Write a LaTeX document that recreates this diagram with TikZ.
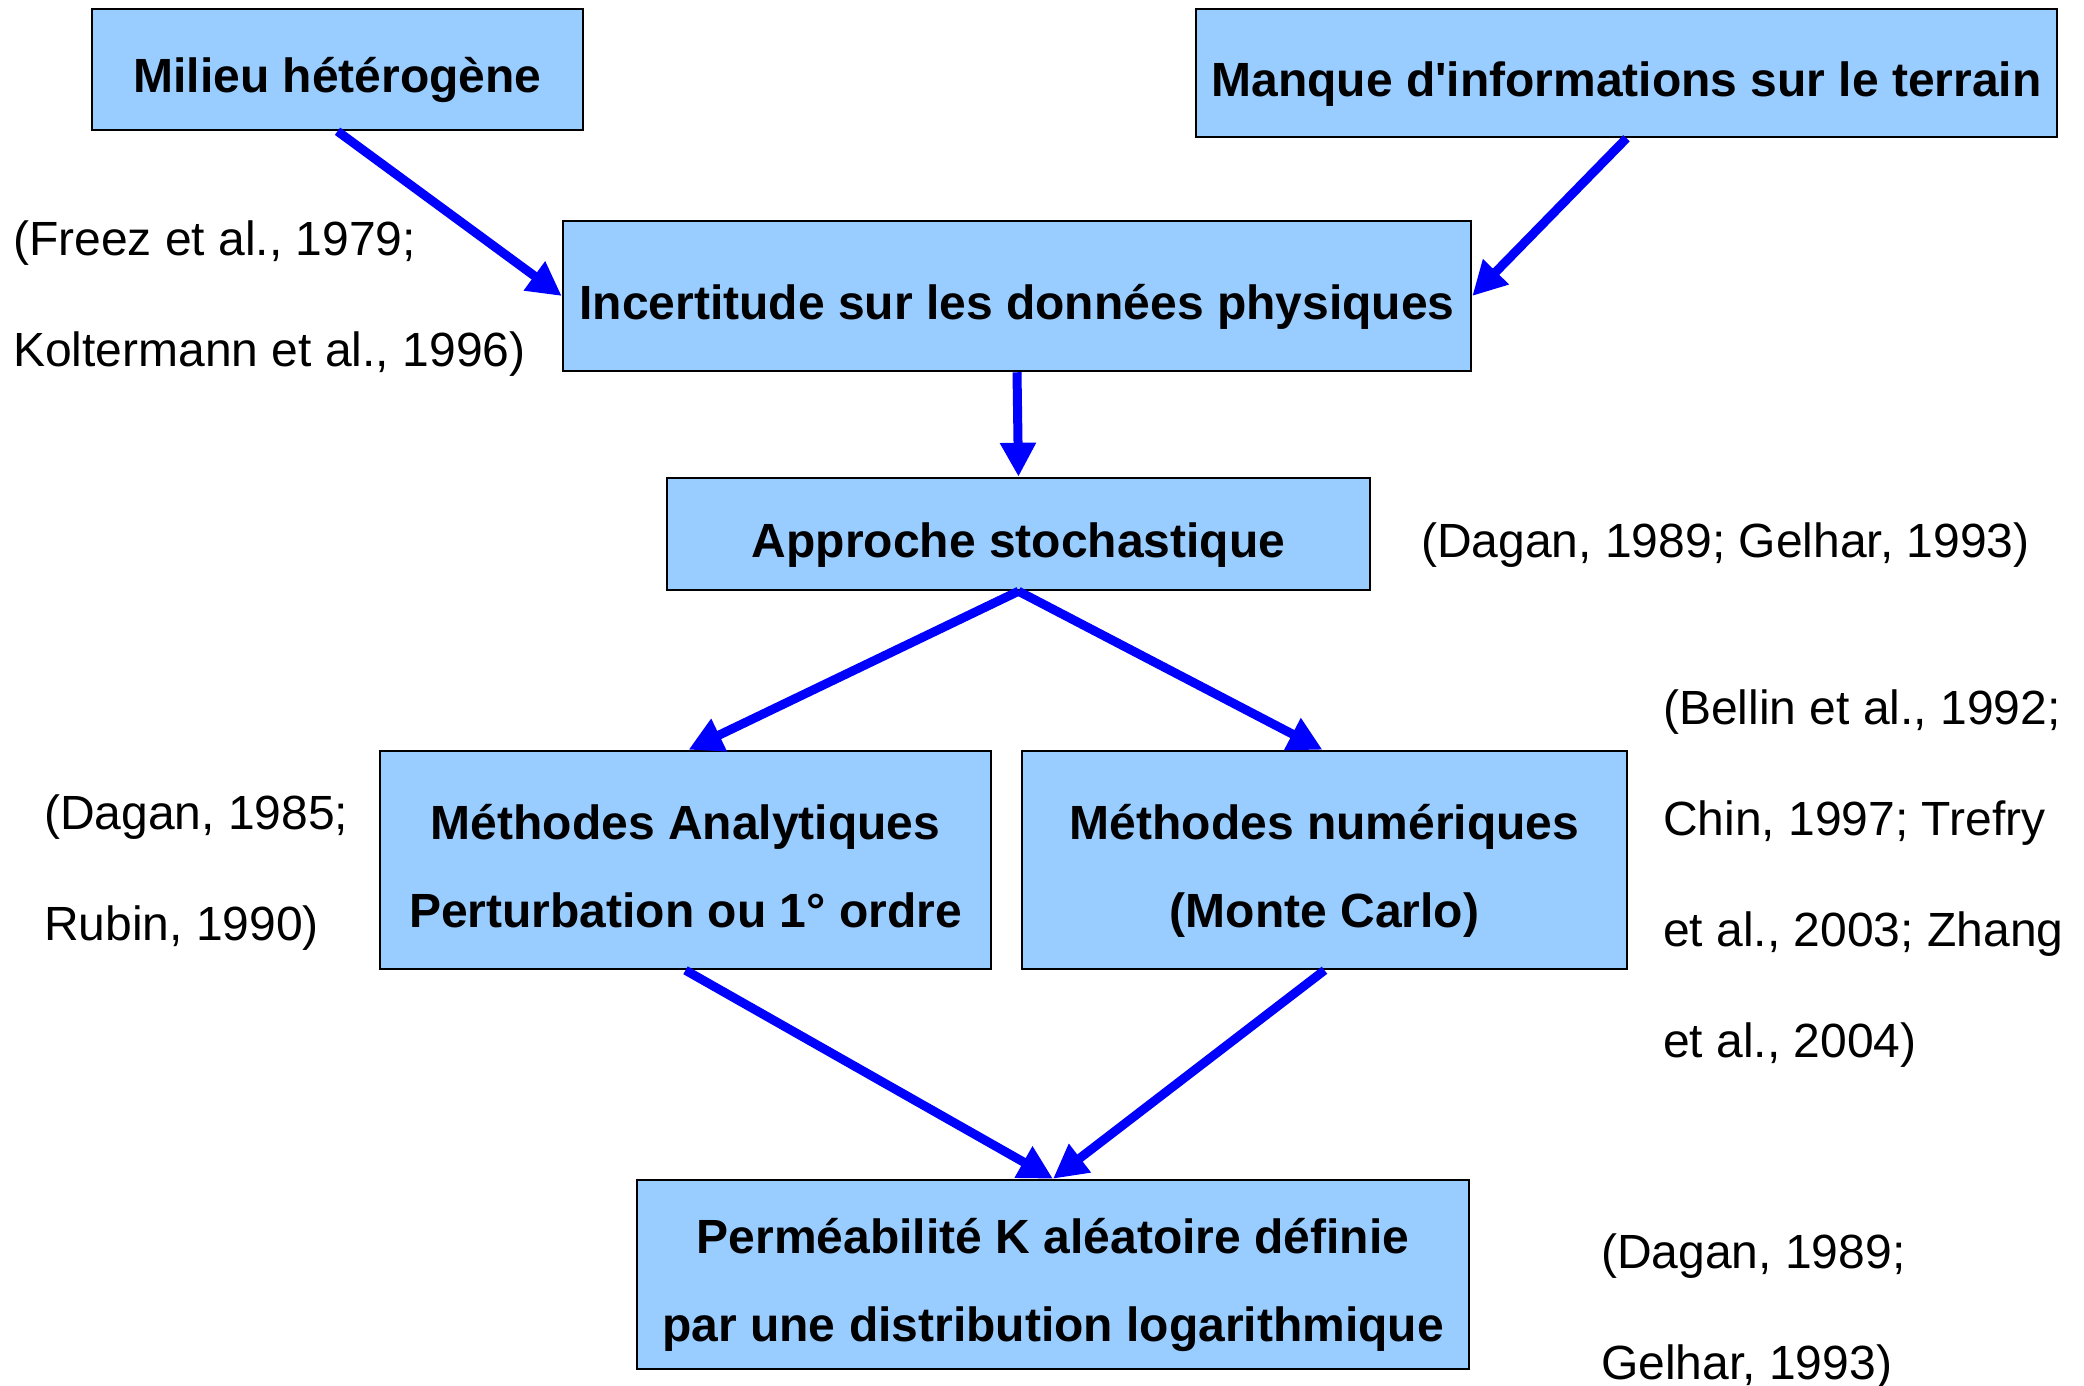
\documentclass[tikz,border=0pt]{standalone}
\usepackage{fontspec}
\setmainfont{Liberation Sans}
\usetikzlibrary{arrows.meta}
\definecolor{boxblue}{RGB}{153,204,255}
\definecolor{arrblue}{RGB}{0,0,255}
\newcommand{\tstr}{\rule{0pt}{57pt}}
\newcommand{\bstr}{\rule[-11pt]{0pt}{11pt}}
\begin{document}
\begin{tikzpicture}[x=1pt,y=-1pt,
  box/.style={draw=black, line width=2.5pt, fill=boxblue, inner sep=0pt,
    font=\fontsize{48}{88}\selectfont\bfseries, align=center},
  cite/.style={anchor=north west, inner sep=0pt, align=left,
    font=\fontsize{48}{111}\selectfont},
  arr/.style={draw=arrblue, line width=9pt, -{Triangle[length=34pt,width=34pt]}}
]
\path[use as bounding box] (0,0) rectangle (2084,1385);

\node[box, minimum width=491pt, minimum height=121pt] (A) at (337.5,69.5) {\tstr Milieu hétérogène\bstr};
\node[box, minimum width=861pt, minimum height=128pt] (B) at (1626.5,73) {\tstr Manque d\textquotesingle informations sur le terrain\bstr};
\node[box, minimum width=908pt, minimum height=150pt] (C) at (1017,296) {\tstr Incertitude sur les données physiques\bstr};
\node[box, minimum width=703pt, minimum height=112pt] (D) at (1018.5,534) {\tstr Approche stochastique\bstr};
\node[box, minimum width=611pt, minimum height=218pt] (E) at (685.5,860) {\tstr Méthodes Analytiques\\Perturbation ou 1° ordre\bstr};
\node[box, minimum width=605pt, minimum height=218pt] (F) at (1324.5,860) {\tstr Méthodes numériques\\(Monte Carlo)\bstr};
\node[box, minimum width=832pt, minimum height=189pt] (G) at (1053,1274.5) {\tstr Perméabilité K aléatoire définie\\par une distribution logarithmique\bstr};

\node[cite] (c1) at (13,221) {(Freez et al., 1979;\\Koltermann et al., 1996)};
\node[cite] (c2) at (1421,523) {(Dagan, 1989; Gelhar, 1993)};
\node[cite] (c3) at (44,795) {(Dagan, 1985;\\Rubin, 1990)};
\node[cite] (c4) at (1663,689) {(Bellin et al., 1992;\\Chin, 1997; Trefry\\et al., 2003; Zhang\\et al., 2004)};
\node[cite] (c5) at (1601,1233) {(Dagan, 1989;\\Gelhar, 1993)};

\draw[arr] (A.south) -- (C.west);
\draw[arr] (B.south) -- (C.east);
\draw[arr] (C.south) -- (D.north);
\draw[arr] (D.south) -- ([xshift=3pt]E.north);
\draw[arr] (D.south) -- ([xshift=-2pt]F.north);
\draw[arr] (E.south) -- (G.north);
\draw[arr] (F.south) -- (G.north);
\end{tikzpicture}
\end{document}
